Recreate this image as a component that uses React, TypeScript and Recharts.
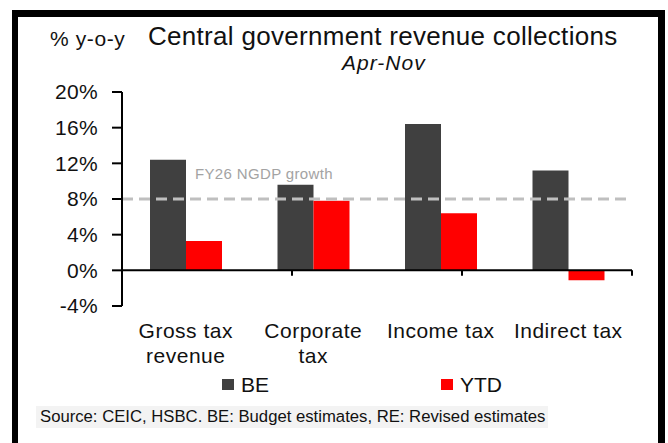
import React from "react";
import { BarChart, Bar, XAxis, YAxis, ReferenceLine, Legend } from "recharts";

const categories = ["Gross tax\nrevenue", "Corporate\ntax", "Income tax", "Indirect tax"];
const beValues = [12.4, 9.6, 16.4, 11.2];
const ytdValues = [3.3, 7.8, 6.4, -1.1];
const yTicks = [-4, 0, 4, 8, 12, 16, 20];
const ngdpGrowth = 8;
// band edges on a hidden 0..4 axis, for the little ticks under the zero line
const bandEdges = [1, 2, 3, 4];

const data = categories.map((name, i) => ({
  name,
  be: beValues[i],
  ytd: ytdValues[i],
}));

const FONT = "'Liberation Sans', Arial, Helvetica, sans-serif";

const CategoryTick = ({ x, y, payload }: any) => {
  const lines = String(payload.value).split("\n");
  return (
    <text x={x} y={y} textAnchor="middle" fill="#111" fontSize={21} letterSpacing={0.5}>
      {lines.map((line, i) => (
        <tspan key={i} x={x} dy={i === 0 ? 31.7 : 25.6}>
          {line}
        </tspan>
      ))}
    </text>
  );
};

const PercentTick = ({ x, y, payload }: any) => (
  <text x={x} y={y} dy="0.355em" textAnchor="end" fill="#111" fontSize={21} letterSpacing={0.3}>
    {payload.value}%
  </text>
);

const NgdpLabel = ({ viewBox }: any) => (
  <text
    x={viewBox.x + 73}
    y={viewBox.y - 20.5}
    fill="#a3a3a3"
    fontSize={15}
    letterSpacing={0.35}
  >
    FY26 NGDP growth
  </text>
);

const LegendContent = ({ payload }: any) => (
  <div style={{ display: "flex", fontFamily: FONT }}>
    {(payload || []).map((item: any) => (
      <div
        key={item.value}
        style={{ width: 219, display: "flex", alignItems: "flex-start" }}
      >
        <span
          style={{
            width: 12,
            height: 11,
            marginTop: 5.5,
            marginRight: 7,
            background: item.color,
          }}
        />
        <span style={{ fontSize: 21, lineHeight: "21px", color: "#111" }}>
          {item.value}
        </span>
      </div>
    ))}
  </div>
);

export default function App() {
  return (
    <div
      style={{
        position: "absolute",
        top: 0,
        left: 0,
        width: 668,
        height: 443,
        overflow: "hidden",
        background: "#fff",
        fontFamily: FONT,
        color: "#111",
      }}
    >
      <div
        style={{
          position: "absolute",
          left: 12,
          top: 10,
          width: 653,
          height: 440,
          boxSizing: "border-box",
          borderLeft: "6px solid #000",
          borderTop: "7px solid #000",
          borderRight: "7px solid #000",
        }}
      />
      <span
        style={{
          position: "absolute",
          left: 50,
          top: 27.5,
          fontSize: 21,
          lineHeight: "21px",
          letterSpacing: 0.6,
          whiteSpace: "nowrap",
        }}
      >
        % y-o-y
      </span>
      <span
        style={{
          position: "absolute",
          left: 148,
          top: 23,
          fontSize: 26,
          lineHeight: "26px",
          letterSpacing: 0.3,
          whiteSpace: "nowrap",
        }}
      >
        Central government revenue collections
      </span>
      <span
        style={{
          position: "absolute",
          left: 342,
          top: 51.8,
          fontSize: 21,
          lineHeight: "21px",
          letterSpacing: 1,
          fontStyle: "italic",
          whiteSpace: "nowrap",
        }}
      >
        Apr-Nov
      </span>
      <div
        style={{
          position: "absolute",
          left: 36,
          top: 406,
          width: 512,
          height: 22,
          background: "#f3f3f3",
        }}
      />
      <span
        style={{
          position: "absolute",
          left: 40,
          top: 408.9,
          fontSize: 16.7,
          lineHeight: "16.7px",
          whiteSpace: "nowrap",
        }}
      >
        Source: CEIC, HSBC. BE: Budget estimates, RE: Revised estimates
      </span>
      <div style={{ position: "absolute", top: 0, left: 0 }}>
        <BarChart
          width={668}
          height={443}
          data={data}
          barSize={36}
          barGap={0}
          margin={{ top: 92, right: 36, bottom: 77, left: 62 }}
        >
          <XAxis
            dataKey="name"
            height={60}
            axisLine={false}
            tickLine={false}
            tickSize={0}
            tickMargin={0}
            interval={0}
            tick={<CategoryTick />}
          />
          <XAxis
            xAxisId="edges"
            type="number"
            domain={[0, 4]}
            allowDataOverflow
            hide
          />
          <YAxis
            domain={[-4, 20]}
            ticks={yTicks}
            interval={0}
            width={60}
            tickSize={10}
            tickMargin={14}
            axisLine={{ stroke: "#000", strokeWidth: 2 }}
            tickLine={{ stroke: "#000", strokeWidth: 2 }}
            tick={<PercentTick />}
          />
          <Bar dataKey="be" name="BE" fill="#404040" isAnimationActive={false} />
          <Bar dataKey="ytd" name="YTD" fill="#ff0000" isAnimationActive={false} />
          <ReferenceLine y={0} stroke="#000" strokeWidth={2} />
          {bandEdges.map((e) => (
            <ReferenceLine
              key={e}
              xAxisId="edges"
              segment={[
                { x: e, y: 0 },
                { x: e, y: -0.6 },
              ]}
              stroke="#000"
              strokeWidth={2}
            />
          ))}
          <ReferenceLine
            y={ngdpGrowth}
            stroke="#bfbfbf"
            strokeWidth={3}
            strokeDasharray="11 6"
            label={<NgdpLabel />}
          />
          <Legend
            layout="horizontal"
            verticalAlign="middle"
            align="center"
            content={<LegendContent />}
            wrapperStyle={{ left: 222, top: 373.5, width: 440, height: 24 }}
          />
        </BarChart>
      </div>
    </div>
  );
}
